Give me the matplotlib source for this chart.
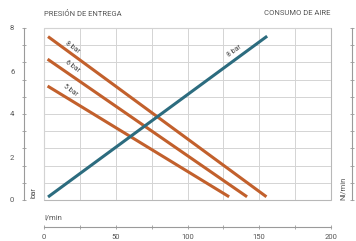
import matplotlib.pyplot as plt
import numpy as np

plt.rcParams['font.family'] = ['Roboto', 'DejaVu Sans']

# datos
caudal_8 = [2.8, 155.0]
presion_8 = [7.6, 0.15]
caudal_6 = [2.5, 141.5]
presion_6 = [6.55, 0.15]
caudal_5 = [2.5, 129.0]
presion_5 = [5.3, 0.15]
consumo_x = [2.8, 155.5]
consumo_y = [0.14, 7.62]

x_ticks = [0, 50, 100, 150, 200]
y_ticks = [0, 2, 4, 6, 8]

gris_txt = '#555555'
gris_eje = '#9a9a9a'
gris_grid = '#d4d4d4'
naranja = '#c2602c'
azul = '#2c6c7f'

W, H = 356, 241
fig = plt.figure(figsize=(W / 100, H / 100), dpi=100)
ax = fig.add_axes([44 / W, 41 / H, 287 / W, 172 / H])

ax.set_xlim(0, 200)
ax.set_ylim(0, 8)

# rejilla
ax.set_xticks(np.arange(0, 201, 25), minor=True)
ax.set_yticks(np.arange(0, 8.01, 0.8), minor=True)
ax.xaxis.remove_overlapping_locs = False
ax.yaxis.remove_overlapping_locs = False
ax.grid(True, which='minor', color=gris_grid, lw=0.7)
ax.grid(False, which='major')

ax.set_xticks(x_ticks)
ax.set_yticks(y_ticks)
ax.set_xticklabels([str(v) for v in x_ticks])
ax.set_yticklabels([str(v) for v in y_ticks], rotation=90, va='center')

ax.spines['top'].set_visible(False)
ax.spines['right'].set_visible(False)
ax.spines['left'].set_position(('outward', 14.4))
ax.spines['bottom'].set_position(('outward', 19.4))
for s in ['left', 'bottom']:
    ax.spines[s].set_color(gris_eje)
    ax.spines[s].set_linewidth(0.8)

ax.tick_params(which='major', length=0, labelsize=5.5, labelcolor=gris_txt)
ax.tick_params(axis='y', which='major', pad=7)
ax.tick_params(axis='x', which='major', pad=5)
ax.tick_params(which='minor', length=2.5, direction='inout', color=gris_eje, width=0.6)

# marco de la rejilla
ax.add_patch(plt.Rectangle((0, 0), 1, 1, transform=ax.transAxes, fill=False,
                           edgecolor='#b8b8b8', lw=0.8, clip_on=False))

# eje derecho
ax2 = ax.twinx()
ax2.set_ylim(0, 8)
ax2.spines['right'].set_position(('outward', 15.1))
for s in ['top', 'left', 'bottom']:
    ax2.spines[s].set_visible(False)
ax2.spines['right'].set_color(gris_eje)
ax2.spines['right'].set_linewidth(0.8)
ax2.set_yticks(np.arange(0, 8.01, 0.8))
ax2.set_yticklabels([])
ax2.tick_params(length=2.5, direction='inout', color=gris_eje, width=0.6)

# curvas
ax.plot(caudal_8, presion_8, color=naranja, lw=2.2, solid_capstyle='butt')
ax.plot(caudal_6, presion_6, color=naranja, lw=2.2, solid_capstyle='butt')
ax.plot(caudal_5, presion_5, color=naranja, lw=2.2, solid_capstyle='butt')
ax.plot(consumo_x, consumo_y, color=azul, lw=2.2, solid_capstyle='butt')

kw = dict(fontsize=5, color='#444444', ha='center', va='center')
ax.text(20.0, 7.12, '8 bar', rotation=-36, **kw)
ax.text(20.0, 6.22, '6 bar', rotation=-36, **kw)
ax.text(18.5, 5.1, '5 bar', rotation=-36, **kw)
ax.text(133, 6.9, '8 bar', rotation=36, **kw)

# textos
fig.text(44 / W, 1 - 13 / H, 'PRESIÓN DE ENTREGA', fontsize=5.5, color=gris_txt,
         ha='left', va='center')
fig.text(330 / W, 1 - 13 / H, 'CONSUMO DE AIRE', fontsize=5.5, color=gris_txt,
         ha='right', va='center')
fig.text(34 / W, 1 - 193 / H, 'bar', fontsize=5.5, color=gris_txt,
         rotation=90, ha='center', va='center')
fig.text(343 / W, 1 - 188 / H, 'Nl/min', fontsize=5.5, color=gris_txt,
         rotation=90, ha='center', va='center')
fig.text(44 / W, 1 - 217 / H, 'l/min', fontsize=5.5, color=gris_txt,
         ha='left', va='center')

fig.savefig('out.png', dpi=100)
